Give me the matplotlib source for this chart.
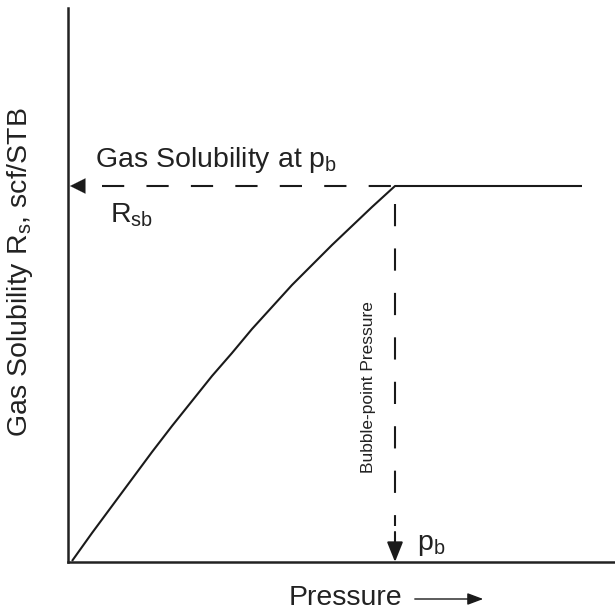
import matplotlib
matplotlib.use("Agg")
import matplotlib.pyplot as plt

# ----------------------------------------------------------------------------------------------------------------------
# Values (arbitrary units, schematic chart)
pressure = [4, 24, 44, 64, 84, 104, 124, 144, 164, 184, 204, 224, 244, 264, 284, 304, 327]
solubility = [1, 29, 56, 83, 110, 136, 161, 186, 209, 233, 255, 277, 297, 317, 336, 355, 376]
p_bubble = 327
rs_bubble = 376
p_end = 514

plt.rcParams["font.family"] = ["Liberation Sans", "DejaVu Sans"]
plt.rcParams["mathtext.fontset"] = "custom"
plt.rcParams["mathtext.rm"] = "Liberation Sans"
plt.rcParams["mathtext.it"] = "Liberation Sans"
plt.rcParams["lines.scale_dashes"] = False

W, H = 615, 613
fig = plt.figure(figsize=(W / 100, H / 100), dpi=100)
ax = fig.add_axes([68 / W, (H - 562) / H, (W - 68) / W, (562 - 8) / H])
ax.set_xlim(0, 547)
ax.set_ylim(0, 554)

# Spines: only left and bottom
for side in ["top", "right"]:
    ax.spines[side].set_visible(False)
for side in ["left", "bottom"]:
    ax.spines[side].set_linewidth(1.8)
    ax.spines[side].set_color("#222222")
ax.set_xticks([])
ax.set_yticks([])

# Solubility curve up to bubble point, then flat
ax.plot(pressure + [p_end], solubility + [rs_bubble], color="#1a1a1a", lw=1.5,
        solid_capstyle="butt", solid_joinstyle="round", clip_on=False)

# Dashed guides
dash = (0, (16, 16))
ax.plot([34, p_bubble - 2], [rs_bubble, rs_bubble], color="#1a1a1a", lw=1.5, linestyle=dash)
ax.plot([p_bubble, p_bubble], [rs_bubble - 18, 36], color="#1a1a1a", lw=1.5, linestyle=dash)
ax.annotate("", xy=(p_bubble, 0), xytext=(p_bubble, 30),
            arrowprops=dict(arrowstyle="-|>,head_width=0.22,head_length=0.55", color="#1a1a1a",
                            lw=1.5, mutation_scale=22, shrinkA=0, shrinkB=0))
ax.annotate("", xy=(2, rs_bubble), xytext=(13, rs_bubble),
            arrowprops=dict(arrowstyle="-|>,head_width=0.25,head_length=0.5", color="#1a1a1a",
                            lw=0.1, mutation_scale=22, shrinkA=0, shrinkB=0))

# Labels inside the plot
fs = 20.5
ax.text(27, rs_bubble + 26, r"Gas Solubility at $\mathrm{p_b}$", fontsize=fs,
        color="#222222", va="center", ha="left")
ax.text(42, rs_bubble - 29, r"$\mathrm{R_{sb}}$", fontsize=fs,
        color="#222222", va="center", ha="left")
ax.text(349, 17, r"$\mathrm{p_b}$", fontsize=fs, color="#222222", va="center", ha="left")
ax.text(p_bubble - 27, 175, "Bubble-point Pressure", fontsize=12.5, rotation=90,
        color="#222222", va="center", ha="center")

# Axis titles
fig.text(345 / W, 1 - 598 / H, "Pressure", fontsize=fs, color="#222222",
         ha="center", va="center")
fig.add_artist(matplotlib.patches.FancyArrowPatch(
    (412 / W, 1 - 599 / H), (486 / W, 1 - 599 / H), transform=fig.transFigure,
    arrowstyle="-|>,head_width=0.3,head_length=0.8", mutation_scale=12, lw=1.0,
    color="#1a1a1a"))
fig.text(20 / W, 1 - 272 / H, r"Gas Solubility $\mathrm{R_s}$, scf/STB", fontsize=fs,
         color="#222222", rotation=90, ha="center", va="center")

fig.savefig("out.png", dpi=100)
